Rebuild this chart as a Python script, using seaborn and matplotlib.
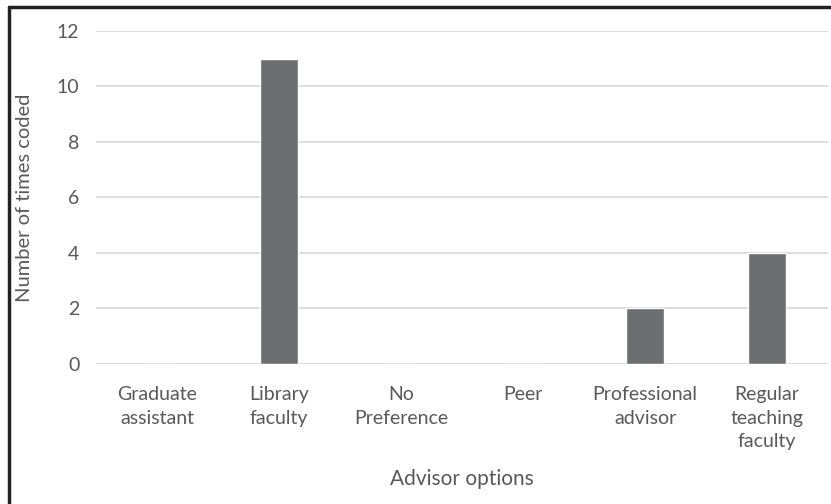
"""Bar chart of how often each advisor option was coded."""

import matplotlib

matplotlib.use("Agg")

import matplotlib.pyplot as plt
import pandas as pd
import seaborn as sns
from matplotlib.lines import Line2D

ADVISOR_OPTIONS = [
    "Graduate\nassistant",
    "Library\nfaculty",
    "No\nPreference",
    "Peer",
    "Professional\nadvisor",
    "Regular\nteaching\nfaculty",
]
TIMES_CODED = [0, 11, 0, 0, 2, 4]
Y_TICKS = [0, 2, 4, 6, 8, 10, 12]

BAR_COLOR = "#6d6e71"
TEXT_COLOR = "#595959"
GRID_COLOR = "#d9d9d9"


def main() -> None:
    sns.set_theme(style="white")
    plt.rcParams["font.family"] = ["Lato", "DejaVu Sans"]

    data = pd.DataFrame({"option": ADVISOR_OPTIONS, "count": TIMES_CODED})

    fig = plt.figure(figsize=(8.31, 5.04), dpi=100)
    ax = fig.add_axes([0.1155, 0.2778, 0.8809, 0.6607])

    sns.barplot(data=data, x="option", y="count", color=BAR_COLOR, width=0.31,
                saturation=1, ax=ax, zorder=3)

    ax.set_ylim(0, 12)
    ax.set_yticks(Y_TICKS)
    ax.set_xlim(-0.5, len(ADVISOR_OPTIONS) - 0.5)
    ax.set_xticks(range(len(ADVISOR_OPTIONS)), ADVISOR_OPTIONS, linespacing=1.45)
    ax.yaxis.grid(True, color=GRID_COLOR, linewidth=1.3, zorder=0)
    ax.set_axisbelow(True)
    for side in ["top", "right", "left", "bottom"]:
        ax.spines[side].set_visible(False)
    ax.axhline(0, color=GRID_COLOR, linewidth=1.3, zorder=1)

    ax.tick_params(axis="both", length=0, labelsize=14, colors=TEXT_COLOR)
    ax.tick_params(axis="x", pad=16)
    ax.tick_params(axis="y", pad=12)
    ax.set_xlabel("Advisor options", fontsize=15, color=TEXT_COLOR, labelpad=14)
    ax.set_ylabel("Number of times coded", fontsize=14.5, color=TEXT_COLOR, labelpad=17)

    # frame around the figure (only top and left show in the original crop)
    fig.add_artist(Line2D([0.011, 1.0], [0.986, 0.986], transform=fig.transFigure,
                          color="#222222", linewidth=2.5))
    fig.add_artist(Line2D([0.011, 0.011], [0.0, 0.986], transform=fig.transFigure,
                          color="#222222", linewidth=2.5))

    fig.savefig("out.png", dpi=100)
    plt.close(fig)


if __name__ == "__main__":
    main()
